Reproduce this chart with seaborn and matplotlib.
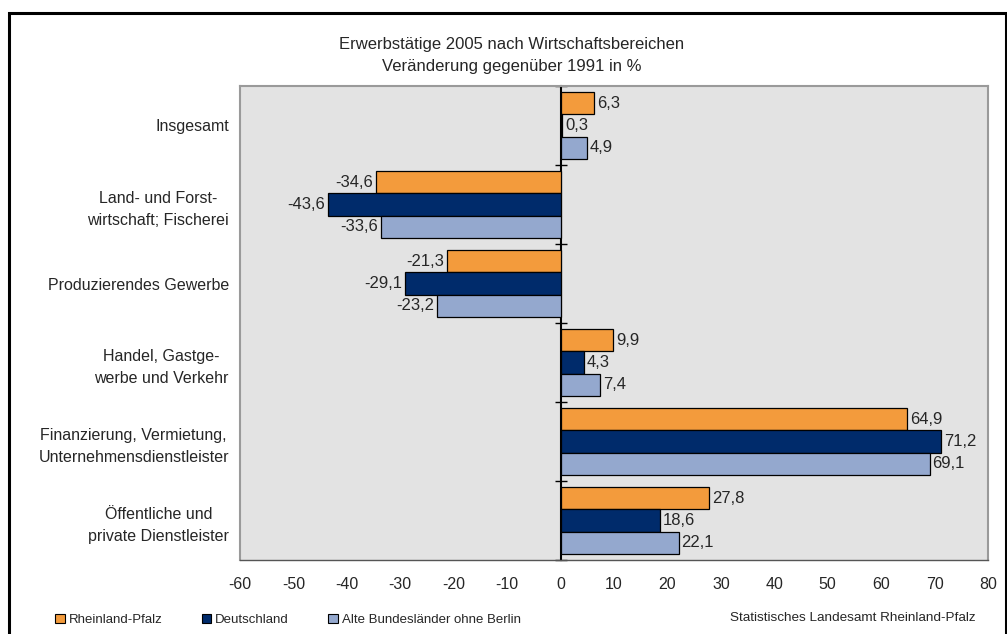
import matplotlib
matplotlib.use("Agg")
import matplotlib.pyplot as plt
import matplotlib.patches as mpatches
import seaborn as sns
import pandas as pd
import numpy as np

# Data: change in employed persons 2005 vs. 1991 (%)
categories = [
    "Insgesamt",
    "Land- und Forst-\nwirtschaft; Fischerei",
    "Produzierendes Gewerbe",
    "Handel, Gastge-\nwerbe und Verkehr",
    "Finanzierung, Vermietung,\nUnternehmensdienstleister",
    "Öffentliche und\nprivate Dienstleister",
]
regions = ["Rheinland-Pfalz", "Deutschland", "Alte Bundesländer ohne Berlin"]
rheinland_pfalz = [6.3, -34.6, -21.3, 9.9, 64.9, 27.8]
deutschland = [0.3, -43.6, -29.1, 4.3, 71.2, 18.6]
alte_laender = [4.9, -33.6, -23.2, 7.4, 69.1, 22.1]
x_ticks = list(range(-60, 81, 10))

colors = ["#F39B3C", "#002B6B", "#94A8CE"]

df = pd.DataFrame({
    "Bereich": categories * 3,
    "Region": np.repeat(regions, len(categories)),
    "Wert": rheinland_pfalz + deutschland + alte_laender,
})

sns.set_style("white")
plt.rcParams["font.family"] = ["Liberation Sans", "DejaVu Sans"]

fig = plt.figure(figsize=(10.07, 6.34), dpi=100)
ax = fig.add_axes([240 / 1007, 1 - 560 / 634, 748 / 1007, 474 / 634])
ax.set_facecolor("#E3E3E3")

sns.barplot(data=df, y="Bereich", x="Wert", hue="Region", order=categories,
            hue_order=regions, palette=colors, orient="h", width=0.85,
            edgecolor="black", linewidth=0.9, saturation=1, legend=False, ax=ax)

for cont in ax.containers:
    ax.bar_label(cont, labels=[f"{v:.1f}".replace(".", ",") for v in cont.datavalues],
                 padding=2, fontsize=12)

ax.set_xlim(-60, 80)
ax.set_xticks(x_ticks)
ax.set_xticklabels([str(t) for t in x_ticks], fontsize=11.5)
ax.set_xlabel("")
ax.set_ylabel("")
ax.tick_params(axis="x", direction="out", length=5, width=1, color="black", pad=7)
ax.tick_params(axis="y", length=0, pad=8, labelsize=11.5)
for t in ax.get_yticklabels():
    t.set_multialignment("center")
    t.set_linespacing(1.55)

for side in ["left", "top", "right"]:
    ax.spines[side].set_color("#9A9A9A")
    ax.spines[side].set_linewidth(1.5)
ax.spines["bottom"].set_color("#555555")
ax.spines["bottom"].set_linewidth(1)

# category axis crossing at zero
zero_frac = (0 - (-60)) / (80 - (-60))
sec = ax.secondary_yaxis(zero_frac)
sec.set_yticks(np.arange(len(categories) + 1) - 0.5)
sec.set_yticklabels([])
sec.tick_params(direction="inout", length=9, width=1, color="black")
sec.spines["left"].set_color("black")
sec.spines["left"].set_linewidth(1.5)
sec.spines["right"].set_visible(False)

fig.text(0.508, 1 - 44 / 634, "Erwerbstätige 2005 nach Wirtschaftsbereichen",
         ha="center", va="center", fontsize=12)
fig.text(0.508, 1 - 66 / 634, "Veränderung gegenüber 1991 in %",
         ha="center", va="center", fontsize=12)

handles = [mpatches.Patch(facecolor=c, edgecolor="black", linewidth=0.8) for c in colors]
fig.legend(handles, regions, loc="center left", bbox_to_anchor=(50 / 1007, 1 - 620 / 634),
           ncol=3, frameon=False, fontsize=9.5, handlelength=0.7, handleheight=0.7,
           handletextpad=0.3, columnspacing=3.0, borderaxespad=0)

fig.text(975 / 1007, 1 - 618 / 634, "Statistisches Landesamt Rheinland-Pfalz",
         ha="right", va="center", fontsize=9.7)

# outer frame
frame = mpatches.Rectangle((9 / 1007, -0.05), (1006 - 9) / 1007, 1 - 13 / 634 + 0.05,
                           transform=fig.transFigure, fill=False, edgecolor="black",
                           linewidth=2.2, clip_on=False)
fig.add_artist(frame)

fig.savefig("out.png", dpi=100)
